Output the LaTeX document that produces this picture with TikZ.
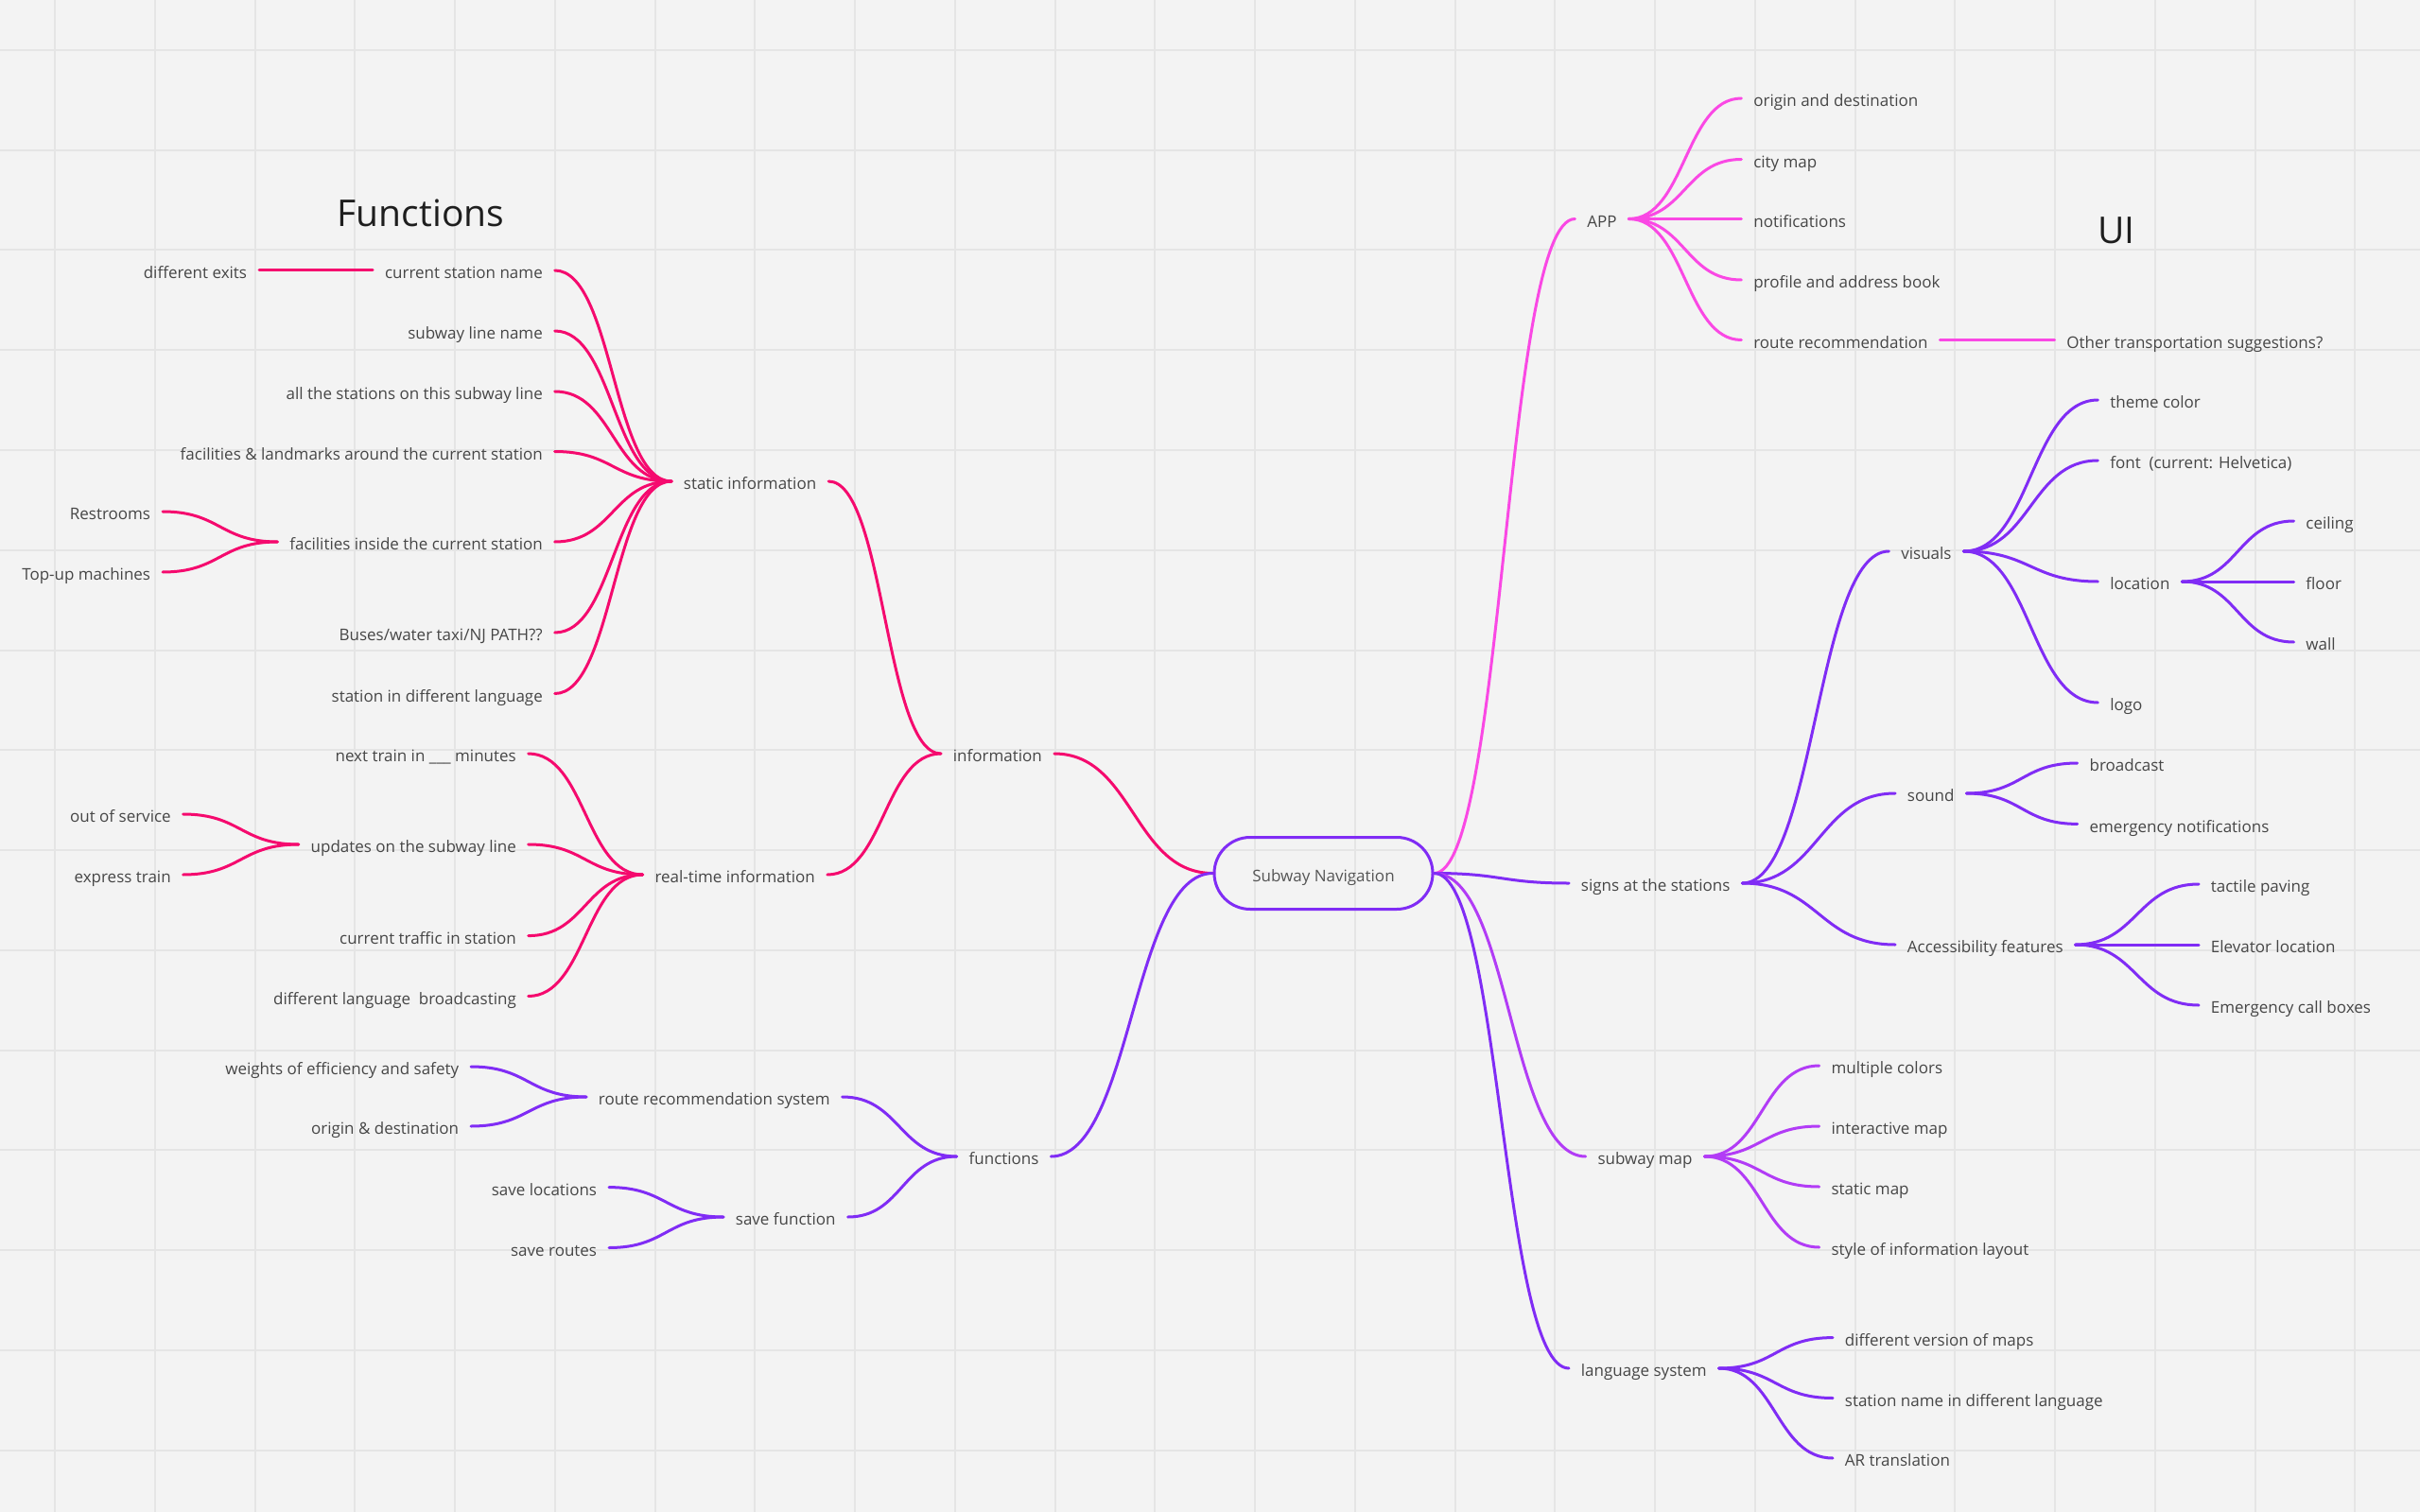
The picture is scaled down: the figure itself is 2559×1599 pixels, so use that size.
\documentclass[tikz,border=0pt]{standalone}
\usepackage{fontspec}
\setmainfont{Open Sans}
\usetikzlibrary{calc}

\definecolor{bggray}{RGB}{243,243,243}
\definecolor{gridgray}{RGB}{229,229,229}
\definecolor{labelgray}{RGB}{70,70,70}
\definecolor{infopink}{RGB}{245,10,110}
\definecolor{appmagenta}{RGB}{250,72,228}
\definecolor{navpurple}{RGB}{128,44,245}
\definecolor{mapviolet}{RGB}{178,60,246}

\tikzset{every picture/.style={line width=1.5pt}}
\tikzset{
	lbl/.style={font=\fontsize{8.5pt}{10pt}\selectfont, text=labelgray, inner xsep=5.7pt, inner ysep=0pt, text height=8.8pt, text depth=0pt},
	lleft/.style={lbl, anchor=east},
	lright/.style={lbl, anchor=west},
	maptitle/.style={font=\fontsize{19.5pt}{22pt}\selectfont, text={rgb,255:red,30;green,30;blue,30}, anchor=base, inner sep=0pt},
	hub/.style={lbl, draw=navpurple, rounded corners=19pt, minimum width=115.5pt, minimum height=38pt, text={rgb,255:red,85;green,85;blue,85}},
	branch/.style={line cap=round, to path={let \p1=(\tikztostart), \p2=(\tikztotarget) in .. controls ({0.5*\x1+0.5*\x2},\y1) and ({0.5*\x1+0.5*\x2},\y2) .. (\tikztotarget)}},
	gridline/.style={draw=gridgray, line width=1pt},
}

\begin{document}
\begin{tikzpicture}[x=0.5pt,y=0.5pt,yscale=-1,xscale=1]
	\useasboundingbox (0,0) rectangle (2559,1599);
	\fill[bggray] (0,0) rectangle (2559,1599);
	%Grid
	\foreach \gx in {0,...,23} \draw[gridline] ({58+105.75*\gx},0) -- ({58+105.75*\gx},1599);
	\foreach \gy in {0,...,14} \draw[gridline] (0,{53+105.75*\gy}) -- (2559,{53+105.75*\gy});

	% Title Nodes
	\node[maptitle] (functitle) at (445,240) {Functions};
	\node[maptitle] (uititle) at (2238,258) {UI};

	% Central Node
	\node[hub] (nav) at (1399.5,923.5) {Subway Navigation};

	% Text Nodes [static information]
	\node[lleft] (exits) at (274,286) {different exits};
	\node[lleft] (curname) at (586.7,286) {current station name};
	\node[lleft] (linename) at (586.7,350) {subway line name};
	\node[lleft] (allstations) at (586.7,414) {all the stations on this subway line};
	\node[lleft] (around) at (586.7,477.5) {facilities \& landmarks around the current station};
	\node[lleft] (inside) at (586.7,573) {facilities inside the current station};
	\node[lleft] (restrooms) at (172,541) {Restrooms};
	\node[lleft] (topup) at (172,605) {Top-up machines};
	\node[lleft] (transfer) at (586.7,669) {Buses/water taxi/NJ PATH??};
	\node[lleft] (stlang) at (586.7,733.5) {station in different language};
	\node[lright] (static) at (710,509) {static information};
	% Text Nodes [real-time information]
	\node[lleft] (nexttrain) at (558.7,797) {next train in \_\_\_ minutes};
	\node[lleft] (updates) at (558.7,893) {updates on the subway line};
	\node[lleft] (outservice) at (193.6,861) {out of service};
	\node[lleft] (express) at (193.6,925) {express train};
	\node[lleft] (traffic) at (558.7,989.6) {current traffic in station};
	\node[lleft] (langcast) at (558.7,1053.5) {different language\ \ broadcasting};
	\node[lright] (realtime) at (679.6,925) {real-time information};
	\node[lright] (info) at (995,797) {information};
	% Text Nodes [functions]
	\node[lleft] (weights) at (498,1128) {weights of efficiency and safety};
	\node[lleft] (origdest) at (498,1191) {origin \& destination};
	\node[lright] (routesys) at (620,1160) {route recommendation system};
	\node[lleft] (saveloc) at (644,1255.6) {save locations};
	\node[lleft] (saveroutes) at (644,1319.5) {save routes};
	\node[lright] (savefn) at (765,1287) {save function};
	\node[lright] (functions) at (1011.7,1223) {functions};

	% Text Nodes [APP]
	\node[lright] (app) at (1665.4,231.5) {APP};
	\node[lright] (origin) at (1841.4,104) {origin and destination};
	\node[lright] (citymap) at (1841.4,168.5) {city map};
	\node[lright] (notif) at (1841.4,231.5) {notifications};
	\node[lright] (profile) at (1841.4,296) {profile and address book};
	\node[lright] (routerec) at (1841.4,359.5) {route recommendation};
	\node[lright] (othertrans) at (2172.5,359.5) {Other transportation suggestions?};
	% Text Nodes [signs at the stations]
	\node[lright] (signs) at (1659,934) {signs at the stations};
	\node[lright] (visuals) at (1997.4,583) {visuals};
	\node[lright] (theme) at (2218.4,423) {theme color};
	\node[lright] (fontface) at (2218.4,487) {font\ \ (current: Helvetica)};
	\node[lright] (location) at (2218.4,615) {location};
	\node[lright] (ceiling) at (2425.5,551) {ceiling};
	\node[lright] (floor) at (2425.5,615) {floor};
	\node[lright] (wall) at (2425.5,679) {wall};
	\node[lright] (logo) at (2218.4,743) {logo};
	\node[lright] (sound) at (2004,839) {sound};
	\node[lright] (broadcast) at (2196.7,807) {broadcast};
	\node[lright] (emergnotif) at (2196.7,871.4) {emergency notifications};
	\node[lright] (access) at (2004,999) {Accessibility features};
	\node[lright] (tactile) at (2325,935) {tactile paving};
	\node[lright] (elevator) at (2325,999) {Elevator location};
	\node[lright] (callbox) at (2325,1063) {Emergency call boxes};
	% Text Nodes [subway map]
	\node[lright] (submap) at (1676.7,1223) {subway map};
	\node[lright] (multicolor) at (1923.7,1127) {multiple colors};
	\node[lright] (interactive) at (1923.7,1191) {interactive map};
	\node[lright] (staticmap) at (1923.7,1255) {static map};
	\node[lright] (layout) at (1923.7,1319) {style of information layout};
	% Text Nodes [language system]
	\node[lright] (langsys) at (1659,1447) {language system};
	\node[lright] (mapversions) at (1938,1414.6) {different version of maps};
	\node[lright] (stnamelang) at (1938,1478.5) {station name in different language};
	\node[lright] (artrans) at (1938,1542) {AR translation};

	%Curve Lines [information]
	\draw[infopink, line cap=round] (exits.east) -- (curname.west);
	\draw[infopink, branch] (restrooms.east) to (inside.west);
	\draw[infopink, branch] (topup.east) to (inside.west);
	\draw[infopink, branch] (curname.east) to (static.west);
	\draw[infopink, branch] (linename.east) to (static.west);
	\draw[infopink, branch] (allstations.east) to (static.west);
	\draw[infopink, branch] (around.east) to (static.west);
	\draw[infopink, branch] (inside.east) to (static.west);
	\draw[infopink, branch] (transfer.east) to (static.west);
	\draw[infopink, branch] (stlang.east) to (static.west);
	\draw[infopink, branch] (outservice.east) to (updates.west);
	\draw[infopink, branch] (express.east) to (updates.west);
	\draw[infopink, branch] (nexttrain.east) to (realtime.west);
	\draw[infopink, branch] (updates.east) to (realtime.west);
	\draw[infopink, branch] (traffic.east) to (realtime.west);
	\draw[infopink, branch] (langcast.east) to (realtime.west);
	\draw[infopink, branch] (static.east) to (info.west);
	\draw[infopink, branch] (realtime.east) to (info.west);
	\draw[infopink, branch] (info.east) to (nav.west);
	%Curve Lines [functions]
	\draw[navpurple, branch] (weights.east) to (routesys.west);
	\draw[navpurple, branch] (origdest.east) to (routesys.west);
	\draw[navpurple, branch] (saveloc.east) to (savefn.west);
	\draw[navpurple, branch] (saveroutes.east) to (savefn.west);
	\draw[navpurple, branch] (routesys.east) to (functions.west);
	\draw[navpurple, branch] (savefn.east) to (functions.west);
	\draw[navpurple, branch] (functions.east) to (nav.west);

	%Curve Lines [APP]
	\draw[appmagenta, branch] (nav.east) to (app.west);
	\draw[appmagenta, branch] (app.east) to (origin.west);
	\draw[appmagenta, branch] (app.east) to (citymap.west);
	\draw[appmagenta, branch] (app.east) to (notif.west);
	\draw[appmagenta, branch] (app.east) to (profile.west);
	\draw[appmagenta, branch] (app.east) to (routerec.west);
	\draw[appmagenta, line cap=round] (routerec.east) -- (othertrans.west);
	%Curve Lines [signs at the stations]
	\draw[navpurple, branch] (nav.east) to (signs.west);
	\draw[navpurple, branch] (signs.east) to (visuals.west);
	\draw[navpurple, branch] (signs.east) to (sound.west);
	\draw[navpurple, branch] (signs.east) to (access.west);
	\draw[navpurple, branch] (visuals.east) to (theme.west);
	\draw[navpurple, branch] (visuals.east) to (fontface.west);
	\draw[navpurple, branch] (visuals.east) to (location.west);
	\draw[navpurple, branch] (visuals.east) to (logo.west);
	\draw[navpurple, branch] (location.east) to (ceiling.west);
	\draw[navpurple, branch] (location.east) to (floor.west);
	\draw[navpurple, branch] (location.east) to (wall.west);
	\draw[navpurple, branch] (sound.east) to (broadcast.west);
	\draw[navpurple, branch] (sound.east) to (emergnotif.west);
	\draw[navpurple, branch] (access.east) to (tactile.west);
	\draw[navpurple, branch] (access.east) to (elevator.west);
	\draw[navpurple, branch] (access.east) to (callbox.west);
	%Curve Lines [subway map]
	\draw[mapviolet, branch] (nav.east) to (submap.west);
	\draw[mapviolet, branch] (submap.east) to (multicolor.west);
	\draw[mapviolet, branch] (submap.east) to (interactive.west);
	\draw[mapviolet, branch] (submap.east) to (staticmap.west);
	\draw[mapviolet, branch] (submap.east) to (layout.west);
	%Curve Lines [language system]
	\draw[navpurple, branch] (nav.east) to (langsys.west);
	\draw[navpurple, branch] (langsys.east) to (mapversions.west);
	\draw[navpurple, branch] (langsys.east) to (stnamelang.west);
	\draw[navpurple, branch] (langsys.east) to (artrans.west);

\end{tikzpicture}
\end{document}
